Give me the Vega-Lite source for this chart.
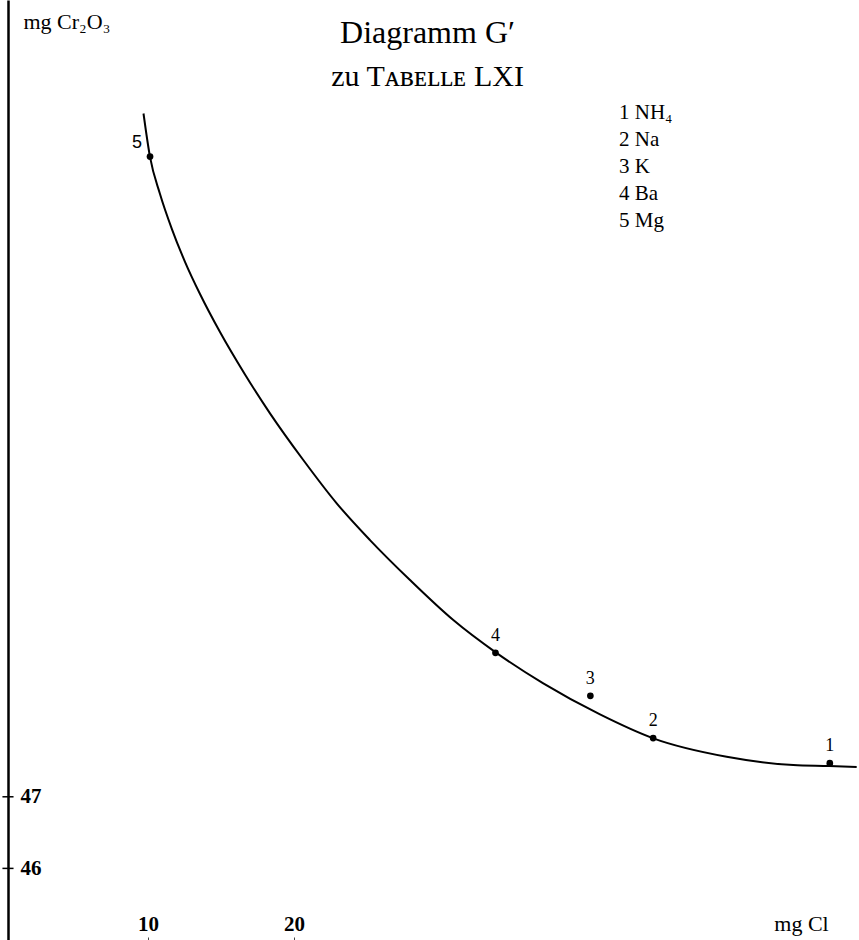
{
  "$schema": "https://vega.github.io/schema/vega-lite/v6.json",
  "width": 851,
  "height": 940,
  "autosize": "none",
  "padding": {"left": 8, "top": 0, "right": 0, "bottom": 0},
  "background": "white",
  "config": {"view": {"stroke": null}, "font": "Liberation Serif"},
  "title": {
    "text": "Diagramm G′",
    "subtitle": "zu Tᴀʙᴇʟʟᴇ LXI",
    "anchor": "middle",
    "orient": "top",
    "offset": -93,
    "fontSize": 32,
    "subtitleFontSize": 30,
    "font": "Liberation Serif",
    "subtitleFont": "Liberation Serif",
    "fontWeight": "normal",
    "color": "black",
    "subtitleColor": "black",
    "subtitlePadding": 12,
    "dx": -6
  },
  "datasets": {
    "curve": [
      {"mgCl": 9.692, "mgCr2O3": 56.542},
      {"mgCl": 10.137, "mgCr2O3": 55.936},
      {"mgCl": 10.822, "mgCr2O3": 55.419},
      {"mgCl": 11.644, "mgCr2O3": 54.925},
      {"mgCl": 12.534, "mgCr2O3": 54.471},
      {"mgCl": 13.562, "mgCr2O3": 54.021},
      {"mgCl": 14.932, "mgCr2O3": 53.490},
      {"mgCl": 16.644, "mgCr2O3": 52.897},
      {"mgCl": 18.356, "mgCr2O3": 52.355},
      {"mgCl": 20.637, "mgCr2O3": 51.703},
      {"mgCl": 22.925, "mgCr2O3": 51.098},
      {"mgCl": 25.205, "mgCr2O3": 50.585},
      {"mgCl": 27.945, "mgCr2O3": 50.027},
      {"mgCl": 30.911, "mgCr2O3": 49.468},
      {"mgCl": 33.815, "mgCr2O3": 49.017},
      {"mgCl": 37.075, "mgCr2O3": 48.584},
      {"mgCl": 40.959, "mgCr2O3": 48.150},
      {"mgCl": 44.610, "mgCr2O3": 47.816},
      {"mgCl": 49.637, "mgCr2O3": 47.559},
      {"mgCl": 54.199, "mgCr2O3": 47.443},
      {"mgCl": 56.664, "mgCr2O3": 47.429},
      {"mgCl": 58.541, "mgCr2O3": 47.415}
    ],
    "points": [
      {"mgCl": 56.7, "mgCr2O3": 47.47, "nr": "1", "key": "1  NH₄"},
      {"mgCl": 44.6, "mgCr2O3": 47.82, "nr": "2", "key": "2  Na"},
      {"mgCl": 40.3, "mgCr2O3": 48.41, "nr": "3", "key": "3  K"},
      {"mgCl": 33.8, "mgCr2O3": 49.01, "nr": "4", "key": "4  Ba"},
      {"mgCl": 10.14, "mgCr2O3": 55.94, "nr": "5", "key": "5  Mg"}
    ],
    "ticks": [{"mgCr2O3": 46, "from": 0.03, "to": 0.79}, {"mgCr2O3": 47, "from": 0.03, "to": 0.79}]
  },
  "layer": [
    {
      "data": {"name": "curve"},
      "mark": {"type": "line", "interpolate": "monotone", "color": "black", "strokeWidth": 2},
      "encoding": {
        "x": {
          "field": "mgCl",
          "type": "quantitative",
          "scale": {"domain": [0.411, 58.7], "nice": false, "zero": false},
          "axis": {
            "orient": "bottom",
            "values": [10, 20],
            "format": "d",
            "domain": false,
            "grid": false,
            "ticks": true,
            "tickSize": -3,
            "tickColor": "#444",
            "tickWidth": 1,
            "labelPadding": -13,
            "labelBaseline": "middle",
            "labelFontSize": 21,
            "labelFont": "Liberation Serif",
            "labelFontWeight": "bold",
            "labelColor": "black",
            "labelFlush": false,
            "title": "mg Cl",
            "titleFont": "Liberation Serif",
            "titleFontSize": 22,
            "titleFontWeight": "normal",
            "titleColor": "black",
            "titleX": 793,
            "titleY": -17,
            "titleBaseline": "middle",
            "titleAlign": "center",
            "titleAngle": 0
          }
        },
        "y": {
          "field": "mgCr2O3",
          "type": "quantitative",
          "scale": {"domain": [45.0, 58.127], "nice": false, "zero": false},
          "axis": {
            "orient": "left",
            "values": [46, 47],
            "format": "d",
            "domain": true,
            "domainColor": "black",
            "domainWidth": 2.5,
            "grid": false,
            "ticks": false,
            "labelAlign": "left",
            "labelPadding": -12,
            "labelBaseline": "middle",
            "labelFontSize": 21,
            "labelFont": "Liberation Serif",
            "labelFontWeight": "bold",
            "labelColor": "black",
            "labelFlush": false,
            "title": "mg Cr₂O₃",
            "titleFont": "Liberation Serif",
            "titleFontSize": 22,
            "titleFontWeight": "normal",
            "titleColor": "black",
            "titleAngle": 0,
            "titleX": 15,
            "titleY": 28,
            "titleAlign": "left",
            "titleBaseline": "alphabetic"
          }
        }
      }
    },
    {
      "data": {"name": "points"},
      "mark": {"type": "circle", "size": 45, "opacity": 1},
      "encoding": {
        "x": {"field": "mgCl", "type": "quantitative", "scale": {"domain": [0.411, 58.7], "nice": false, "zero": false}},
        "y": {"field": "mgCr2O3", "type": "quantitative", "scale": {"domain": [45.0, 58.127], "nice": false, "zero": false}},
        "color": {
          "field": "key",
          "type": "nominal",
          "scale": {"range": ["black", "black", "black", "black", "black"]},
          "legend": {
            "orient": "none",
            "legendX": 590,
            "legendY": 102,
            "title": null,
            "symbolSize": 0,
            "symbolOpacity": 0,
            "symbolStrokeWidth": 0,
            "labelFontSize": 21,
            "labelFont": "Liberation Serif",
            "labelColor": "black",
            "rowPadding": 5,
            "labelOffset": 0,
            "labelLimit": 300
          }
        }
      }
    },
    {
      "data": {"name": "points"},
      "transform": [{"filter": "datum.nr != '5'"}],
      "mark": {"type": "text", "dy": -17, "fontSize": 18, "font": "Liberation Serif", "color": "black", "baseline": "middle"},
      "encoding": {
        "x": {"field": "mgCl", "type": "quantitative"},
        "y": {"field": "mgCr2O3", "type": "quantitative"},
        "text": {"field": "nr"}
      }
    },
    {
      "data": {"name": "points"},
      "transform": [{"filter": "datum.nr == '5'"}],
      "mark": {"type": "text", "dx": -13, "dy": -14, "fontSize": 18, "font": "Liberation Sans", "color": "black", "baseline": "middle"},
      "encoding": {
        "x": {"field": "mgCl", "type": "quantitative"},
        "y": {"field": "mgCr2O3", "type": "quantitative"},
        "text": {"field": "nr"}
      }
    },
    {
      "data": {"name": "ticks"},
      "mark": {"type": "rule", "color": "black", "strokeWidth": 1.5},
      "encoding": {
        "x": {"field": "from", "type": "quantitative"},
        "x2": {"field": "to"},
        "y": {"field": "mgCr2O3", "type": "quantitative"}
      }
    }
  ]
}
